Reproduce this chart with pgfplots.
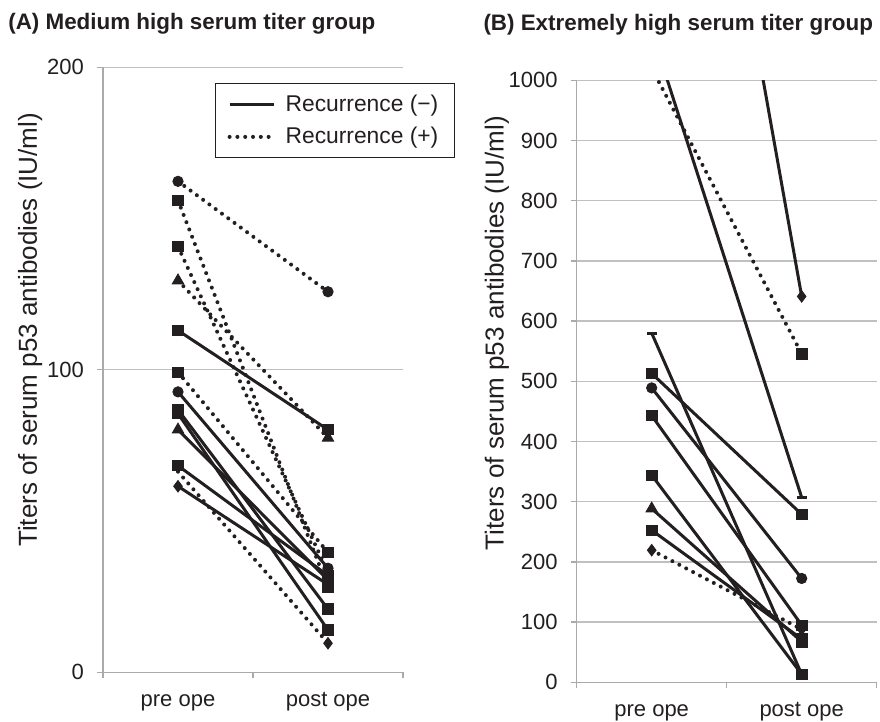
\documentclass[border=0pt]{standalone}
\usepackage{fontspec}
\setmainfont{Liberation Sans}
\usepackage{pgfplots}
\pgfplotsset{compat=1.18}

\definecolor{ink}{RGB}{35,31,32}
\definecolor{gridc}{RGB}{192,192,192}
\definecolor{axisc}{RGB}{170,170,170}

\pgfplotsset{
  titer/.style={
    scale only axis, width=150pt,
    xmin=0.5, xmax=2.5, ymin=0,
    xtick={0.5,1.5,2.5}, xticklabels={,,},
    extra x ticks={1,2},
    extra x tick labels={pre ope, post ope},
    extra x tick style={tick style={draw=none}},
    axis x line*=bottom, axis y line*=left,
    axis line style={-, draw=axisc, line width=0.7pt},
    tick align=outside, major tick length=3pt,
    tick style={draw=axisc, line width=0.7pt},
    ymajorgrids, grid style={draw=gridc, line width=0.7pt},
    tick label style={font=\fontsize{11}{13}\selectfont, text=ink},
    xticklabel style={text height=8pt, text depth=2.5pt, yshift=-2.5pt},
    yticklabel style={xshift=-3pt},
    /pgf/number format/assume math mode=true,
    /pgf/number format/1000 sep={},
    label style={font=\fontsize{13}{15}\selectfont, text=ink},
    title style={font=\fontsize{11.2}{13}\selectfont\bfseries, text=ink, anchor=west, inner sep=0pt},
    legend image code/.code={\draw[##1] (0pt,0pt) -- (22pt,0pt);},
  },
  sol/.style={ink, line width=1.5pt, forget plot},
  dot/.style={ink, line width=2pt, dash pattern=on 0pt off 3.9pt, line cap=round, forget plot},
  mk/.style={only marks, ink, mark size=2.6pt, forget plot},
}

\begin{document}
\begin{tikzpicture}
\useasboundingbox (0,0) rectangle (440pt,361pt);

% (A) medium high group
\begin{axis}[titer, at={(51.5pt,24.85pt)}, anchor=south west,
  height=302.5pt, ymax=200, ytick={0,100,200},
  title={(A) Medium high serum titer group},
  title style={at={(-0.317,1.052)}},
  ylabel={Titers of serum p53 antibodies (IU/ml)},
  ylabel style={at={(axis description cs:-0.243,0.566)}, anchor=center},
  legend style={at={(1.173,0.974)}, anchor=north east, draw=ink, line width=0.6pt,
    font=\fontsize{11.4}{13}\selectfont, text=ink, inner xsep=6pt, inner ysep=3.5pt,
    row sep=2.5pt, column sep=3pt},
  legend cell align=left,
]
\addlegendimage{ink, line width=1.5pt}
\addlegendentry{Recurrence (−)}
\addlegendimage{ink, line width=2pt, dash pattern=on 0pt off 3.9pt, line cap=round}
\addlegendentry{Recurrence (+)}
% recurrence (-)
\addplot[sol] coordinates {(1,113.0) (2,80.2)};
\addplot[sol] coordinates {(1,92.7) (2,34.4)};
\addplot[sol] coordinates {(1,86.8) (2,20.9)};
\addplot[sol] coordinates {(1,85.5) (2,14.0)};
\addplot[sol] coordinates {(1,80.2) (2,30.5)};
\addplot[sol] coordinates {(1,68.3) (2,32.0)};
\addplot[sol] coordinates {(1,61.5) (2,29.0)};
% recurrence (+)
\addplot[dot] coordinates {(1,162.3) (2,125.8)};
\addplot[dot] coordinates {(1,156.0) (2,28.0)};
\addplot[dot] coordinates {(1,140.7) (2,33.0)};
\addplot[dot] coordinates {(1,129.5) (2,77.5)};
\addplot[dot] coordinates {(1,99.2) (2,39.6)};
\addplot[dot] coordinates {(1,66.3) (2,9.6)};
% markers
\addplot[mk, mark=triangle*, mark size=3.3pt] coordinates {(1,129.5) (1,80.2) (2,77.5)};
\addplot[mk, mark=*] coordinates {(1,162.3) (1,92.7) (2,125.8) (2,34.4)};
\addplot[mk, mark=square*] coordinates {(1,156.0) (1,140.7) (1,113.0) (1,99.2) (1,86.8) (1,85.5) (1,68.3)
  (2,80.2) (2,39.6) (2,32.0) (2,30.5) (2,29.0) (2,28.0) (2,20.9) (2,14.0)};
\addplot[mk, mark=diamond*, mark size=2.9pt] coordinates {(1,61.5) (2,9.6)};
\end{axis}

% (B) extremely high group
\begin{axis}[titer, at={(288.35pt,19.85pt)}, anchor=south west,
  height=301pt, ymax=1000, ytick={0,100,...,1000},
  title={(B) Extremely high serum titer group},
  title style={at={(-0.312,1.072)}},
  ylabel={Titers of serum p53 antibodies (IU/ml)},
  ylabel style={at={(axis description cs:-0.266,0.58)}, anchor=center},
]
% recurrence (-)
\addplot[sol] coordinates {(1,2040) (2,641)};
\addplot[sol] coordinates {(1,1081) (2,307)};
\addplot[sol] coordinates {(1,580) (2,13.3)};
\addplot[sol] coordinates {(1,513) (2,279)};
\addplot[sol] coordinates {(1,489) (2,172.5)};
\addplot[sol] coordinates {(1,443) (2,95)};
\addplot[sol] coordinates {(1,344) (2,13.3)};
\addplot[sol] coordinates {(1,288.5) (2,67.4)};
\addplot[sol] coordinates {(1,252.6) (2,72)};
% recurrence (+)
\addplot[dot] coordinates {(1,1020) (2,545.6)};
\addplot[dot] coordinates {(1,219.4) (2,88)};
% markers
\addplot[mk, mark=diamond*, mark size=2.9pt] coordinates {(1,219.4) (2,641) (2,88)};
\addplot[mk, mark=-, mark size=2.5pt, line width=1.5pt] coordinates {(1,580) (2,307)};
\addplot[mk, mark=triangle*, mark size=3.3pt] coordinates {(1,288.5)};
\addplot[mk, mark=*] coordinates {(1,489) (2,172.5)};
\addplot[mk, mark=square*] coordinates {(1,513) (1,443) (1,344) (1,252.6)
  (2,545.6) (2,279) (2,95) (2,72) (2,67.4) (2,13.3)};
\end{axis}
\end{tikzpicture}
\end{document}
